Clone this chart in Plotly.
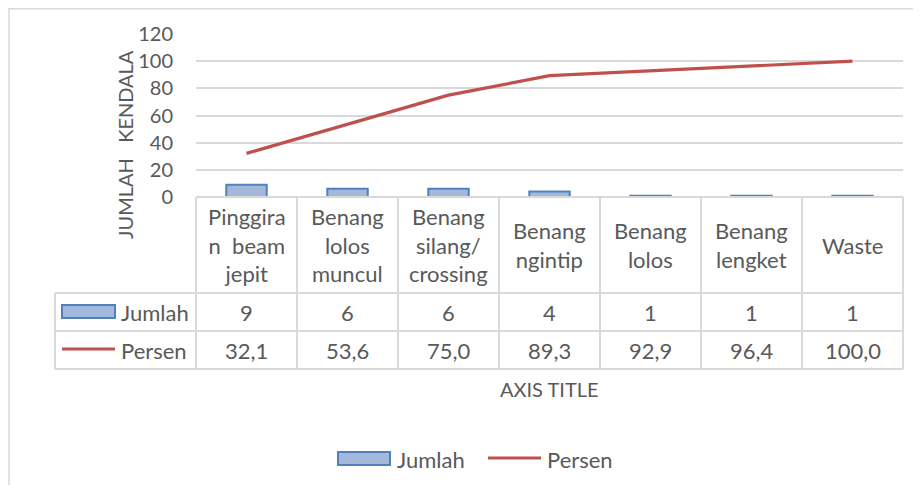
import plotly.graph_objects as go

# ---- data ----
categories = ["Pinggiran beam jepit", "Benang lolos muncul", "Benang silang/crossing",
              "Benang ngintip", "Benang lolos", "Benang lengket", "Waste"]
header_labels = ["Pinggira<br>n\u00a0\u00a0beam<br>jepit", "Benang<br>lolos<br>muncul",
                 "Benang<br>silang/<br>crossing", "Benang<br>ngintip", "Benang<br>lolos",
                 "Benang<br>lengket", "Waste"]
jumlah = [9, 6, 6, 4, 1, 1, 1]
persen = [32.1, 53.6, 75.0, 89.3, 92.9, 96.4, 100.0]
y_ticks = [0, 20, 40, 60, 80, 100, 120]

OFF = 8                      # page body margin
W, H = 921 - 2 * OFF, 493 - 2 * OFF
L, R, T, B = 196, 903, 34, 197   # plot area in screen pixels
TXT = "#595959"
GRID = "#d9d9d9"
FONT = "Lato"
FS = 22

def px(X):
    return (X - L) / (R - L)

def py(Y):
    return (B - Y) / (B - T)

fig = go.Figure()
fig.add_trace(go.Bar(x=categories, y=jumlah, name="Jumlah", width=0.4,
                     marker=dict(color="#a3b8dc", line=dict(color="#4f81bd", width=2)),
                     showlegend=False))
fig.add_trace(go.Scatter(x=categories, y=persen, name="Persen", mode="lines",
                         line=dict(color="#c0504d", width=3.2), showlegend=False))

shapes = []
# outer chart border
shapes.append(dict(type="rect", xref="paper", yref="paper", x0=px(9), x1=px(940),
                   y0=py(8.8), y1=py(520), line=dict(color=GRID, width=1.5), layer="below"))
# table lines
row_y = [197, 293, 331, 369]
for i, yy in enumerate(row_y):
    x0 = L if i == 0 else 55
    shapes.append(dict(type="line", xref="paper", yref="paper", x0=px(x0), x1=px(R),
                       y0=py(yy), y1=py(yy), line=dict(color=GRID, width=2)))
ncat = len(categories)
for k in range(ncat + 1):
    xx = L + (R - L) * k / ncat
    shapes.append(dict(type="line", xref="paper", yref="paper", x0=px(xx), x1=px(xx),
                       y0=py(197), y1=py(369), line=dict(color=GRID, width=2)))
shapes.append(dict(type="line", xref="paper", yref="paper", x0=px(55), x1=px(55),
                   y0=py(293), y1=py(369), line=dict(color=GRID, width=2)))
# legend keys inside table
shapes.append(dict(type="rect", xref="paper", yref="paper", x0=px(62), x1=px(115),
                   y0=py(318), y1=py(305), fillcolor="#a3b8dc",
                   line=dict(color="#4f81bd", width=2)))
shapes.append(dict(type="line", xref="paper", yref="paper", x0=px(62), x1=px(115),
                   y0=py(349), y1=py(349), line=dict(color="#c0504d", width=3.2)))
# bottom legend keys
shapes.append(dict(type="rect", xref="paper", yref="paper", x0=px(338), x1=px(390),
                   y0=py(465), y1=py(452), fillcolor="#a3b8dc",
                   line=dict(color="#4f81bd", width=2)))
shapes.append(dict(type="line", xref="paper", yref="paper", x0=px(488), x1=px(541),
                   y0=py(458), y1=py(458), line=dict(color="#c0504d", width=3.2)))

ann = []
font = dict(family=FONT, size=FS, color=TXT)
for c, lab, j, p in zip(categories, header_labels, jumlah, persen):
    ann.append(dict(x=c, xref="x", y=py(245), yref="paper", text=lab, showarrow=False,
                    font=font, xanchor="center", yanchor="middle", align="center"))
    ann.append(dict(x=c, xref="x", y=py(312), yref="paper", text=str(j), showarrow=False,
                    font=font, xanchor="center", yanchor="middle"))
    ann.append(dict(x=c, xref="x", y=py(350), yref="paper",
                    text=f"{p:.1f}".replace(".", ","), showarrow=False,
                    font=font, xanchor="center", yanchor="middle"))
ann.append(dict(x=px(119), xref="paper", y=py(312), yref="paper", text="Jumlah",
                showarrow=False, font=font, xanchor="left", yanchor="middle"))
ann.append(dict(x=px(119), xref="paper", y=py(350), yref="paper", text="Persen",
                showarrow=False, font=font, xanchor="left", yanchor="middle"))
ann.append(dict(x=px(549), xref="paper", y=py(389), yref="paper", text="AXIS TITLE",
                showarrow=False, font=dict(family=FONT, size=20, color=TXT),
                xanchor="center", yanchor="middle"))
ann.append(dict(x=px(125), xref="paper", y=py(145), yref="paper",
                text="JUMLAH\u00a0\u00a0\u00a0KENDALA", textangle=-90,
                showarrow=False, font=dict(family=FONT, size=20, color=TXT),
                xanchor="center", yanchor="middle"))
ann.append(dict(x=px(395), xref="paper", y=py(459), yref="paper", text="Jumlah",
                showarrow=False, font=font, xanchor="left", yanchor="middle"))
ann.append(dict(x=px(545), xref="paper", y=py(459), yref="paper", text="Persen",
                showarrow=False, font=font, xanchor="left", yanchor="middle"))

fig.update_layout(
    width=W, height=H, autosize=False,
    margin=dict(l=L - OFF, r=(W + OFF) - R, t=T - OFF, b=(H + OFF) - B, pad=0),
    paper_bgcolor="white", plot_bgcolor="white",
    xaxis=dict(type="category", range=[-0.5, ncat - 0.5], showticklabels=False,
               showgrid=False, zeroline=False, showline=False, ticks="",
               automargin=False),
    yaxis=dict(range=[0, 120], tickvals=y_ticks, showgrid=True, gridcolor=GRID,
               gridwidth=2, zeroline=False, showline=False, ticks="",
               ticklabelstandoff=22, tickfont=dict(family=FONT, size=20, color=TXT),
               automargin=False),
    shapes=shapes, annotations=ann, showlegend=False,
)

fig.write_html("out.html")
